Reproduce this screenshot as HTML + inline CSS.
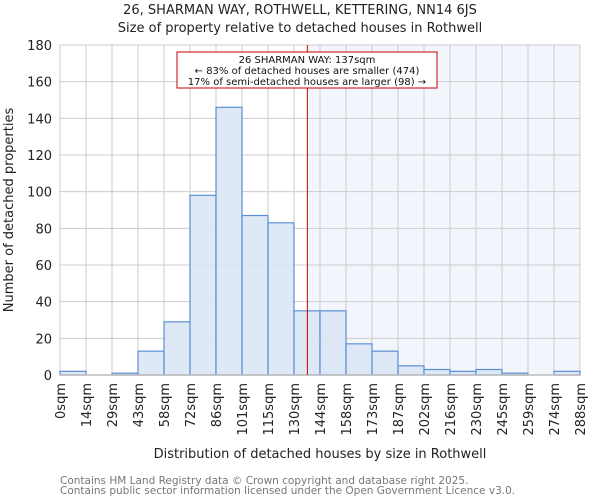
<!DOCTYPE html>
<html><head><meta charset="utf-8"><style>
body{margin:0;background:#fff;font-family:"DejaVu Sans","Liberation Sans",sans-serif}
</style></head><body>
<svg width="600" height="500" xmlns="http://www.w3.org/2000/svg">
<g id="root"></g>
</svg>
<script>
const binLabels=["0sqm","14sqm","29sqm","43sqm","58sqm","72sqm","86sqm","101sqm","115sqm","130sqm","144sqm","158sqm","173sqm","187sqm","202sqm","216sqm","230sqm","245sqm","259sqm","274sqm","288sqm"];
const counts=[2,0,1,13,29,98,146,87,83,35,35,17,13,5,3,2,3,1,0,2];
const yTicks=[0,20,40,60,80,100,120,140,160,180];
const propertySize=137;
const maxSize=288;
const X0=60,X1=580,Y0=375,Y1=45,YMAX=180;
const xs=v=>X0+v/maxSize*(X1-X0);
const xb=i=>X0+i*(X1-X0)/counts.length;
const ys=v=>Y0-v/YMAX*(Y0-Y1);
const NS="http://www.w3.org/2000/svg";
const root=document.getElementById('root');
function mk(t,a,txt){const e=document.createElementNS(NS,t);for(const k in a)e.setAttribute(k,a[k]);if(txt!=null)e.textContent=txt;root.appendChild(e);return e;}
let e;
// shading
e=mk('rect',{x:xs(propertySize),y:Y1,width:X1-xs(propertySize),height:Y0-Y1,fill:'#f2f5fc'});


// grid
yTicks.forEach(t=>{e=mk('line',{x1:X0,x2:X1,y1:ys(t),y2:ys(t),stroke:'#cccccc','stroke-width':1});


e=mk('text',{x:X0-8,y:ys(t)+5,'text-anchor':'end','font-size':13,fill:'#222'},t);

});
binLabels.forEach((l,i)=>{const x=xb(i);e=mk('line',{x1:x,x2:x,y1:Y1,y2:Y0,stroke:'#cccccc','stroke-width':1});


e=mk('text',{transform:`translate(${x+5},${Y0+8}) rotate(-90)`,'text-anchor':'end','font-size':13,fill:'#222'},l);

});
// bars
counts.forEach((c,i)=>{if(c<=0)return;e=mk('rect',{x:xb(i),y:ys(c),width:xb(i+1)-xb(i),height:Y0-ys(c),fill:'#dce6f4',stroke:'#5b8fd6','stroke-width':1.2,'fill-opacity':0.9});

});
e=mk('line',{x1:X0,x2:X1,y1:Y0,y2:Y0,stroke:'#bbb','stroke-width':1.5});


// marker
e=mk('line',{x1:xs(propertySize),x2:xs(propertySize),y1:Y1,y2:Y0,stroke:'#cc0000','stroke-width':1});


e=mk('rect',{x:177,y:52,width:260,height:36,fill:'#fff',stroke:'#cc0000','stroke-width':1});


["26 SHARMAN WAY: 137sqm","← 83% of detached houses are smaller (474)","17% of semi-detached houses are larger (98) →"].forEach((t,i)=>{
e=mk('text',{x:307,y:63+i*11,'text-anchor':'middle','font-size':10,fill:'#111'},t);

});
// titles
e=mk('text',{x:300,y:14,'text-anchor':'middle','font-size':13,fill:'#222'},"26, SHARMAN WAY, ROTHWELL, KETTERING, NN14 6JS");


e=mk('text',{x:300,y:32,'text-anchor':'middle','font-size':13,fill:'#222'},"Size of property relative to detached houses in Rothwell");


e=mk('text',{transform:'translate(13,210) rotate(-90)','text-anchor':'middle','font-size':13,fill:'#222'},"Number of detached properties");


e=mk('text',{x:320,y:458,'text-anchor':'middle','font-size':13,fill:'#222'},"Distribution of detached houses by size in Rothwell");


e=mk('text',{x:60,y:484,'font-size':10.5,fill:'#777'},"Contains HM Land Registry data © Crown copyright and database right 2025.");


e=mk('text',{x:60,y:494,'font-size':10.5,fill:'#777'},"Contains public sector information licensed under the Open Government Licence v3.0.");


</script>
</body></html>
